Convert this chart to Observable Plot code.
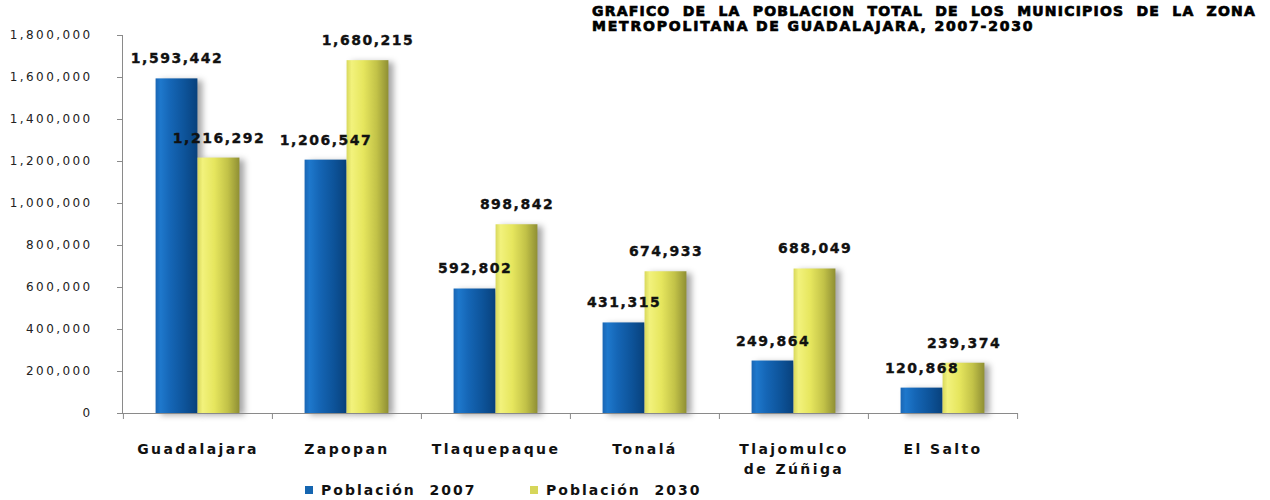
<!DOCTYPE html>
<html><head><meta charset="utf-8">
<script src="https://cdn.jsdelivr.net/npm/d3@7"></script>
<script src="https://cdn.jsdelivr.net/npm/@observablehq/plot@0.6"></script>
<style>
body{margin:0;background:#fff;width:1270px;height:500px;position:relative;overflow:hidden;}
#title{position:absolute;left:592px;top:4px;width:664px;font-family:"DejaVu Sans",sans-serif;font-weight:bold;font-size:14px;line-height:15px;color:#000;letter-spacing:1.8px;-webkit-text-stroke:0.7px #000;}
#title .l1{text-align:justify;text-align-last:justify;letter-spacing:1.2px;}
#chart{position:absolute;left:0;top:0;}
#legend{position:absolute;left:0;top:480px;width:1270px;height:20px;font-family:"DejaVu Sans",sans-serif;font-weight:bold;font-size:14px;color:#111;letter-spacing:2px;}
#legend .item{position:absolute;top:0;line-height:20px;white-space:pre;}
#legend .sw{display:inline-block;width:8px;height:8px;margin-right:8px;vertical-align:1px;}
.bars{filter:drop-shadow(5px 2px 3px rgba(0,0,0,0.35));}
.vlab{letter-spacing:1.5px;stroke:#111;stroke-width:0.35px;}
</style>
</head><body>
<div id="title"><div class="l1">GRAFICO DE LA POBLACION TOTAL DE LOS MUNICIPIOS DE LA ZONA</div><div>METROPOLITANA DE GUADALAJARA, 2007-2030</div></div>
<div id="chart"></div>
<div id="legend"></div>
<script>
const categories = ["Guadalajara", "Zapopan", "Tlaquepaque", "Tonalá", "Tlajomulco\nde Zúñiga", "El Salto"];
const pop2007 = [1593442, 1206547, 592802, 431315, 249864, 120868];
const pop2030 = [1216292, 1680215, 898842, 674933, 688049, 239374];
const seriesNames = ["Población  2007", "Población  2030"];
const yTicks = [0, 200000, 400000, 600000, 800000, 1000000, 1200000, 1400000, 1600000, 1800000];

const W = 1270, H = 480, mL = 122, mR = 253, mT = 35, mB = 67;
const bw = (W - mL - mR) / categories.length;
const barW = 42;

const rows07 = categories.map((c, i) => ({cat: c, v: pop2007[i]}));
const rows30 = categories.map((c, i) => ({cat: c, v: pop2030[i]}));
const fmt = d3.format(",");

const svg = Plot.plot({
  width: W, height: H,
  marginLeft: mL, marginRight: mR, marginTop: mT, marginBottom: mB,
  x: {domain: categories, padding: 0},
  y: {domain: [0, 1800000]},
  marks: [
    Plot.barY(rows07, {x: "cat", y: "v", fill: "url(#gBlue)", insetLeft: bw/2 - barW, insetRight: bw/2, className: "bars"}),
    Plot.barY(rows30, {x: "cat", y: "v", fill: "url(#gYellow)", insetLeft: bw/2, insetRight: bw/2 - barW, className: "bars"}),
    Plot.frame({anchor: "left", stroke: "#8a8a8a"}),
    Plot.frame({anchor: "bottom", stroke: "#8a8a8a"}),
    Plot.ruleX(categories, {x: d => d, y1: 0, y2: 0, insetBottom: -6, dx: -bw/2, stroke: "#8a8a8a"}),
    Plot.ruleX([categories[categories.length - 1]], {x: d => d, y1: 0, y2: 0, insetBottom: -6, dx: bw/2, stroke: "#8a8a8a"}),
    Plot.axisY({ticks: yTicks, tickFormat: fmt, tickSize: 5, tickPadding: 25, stroke: "#8a8a8a", fontSize: 12, fontFamily: "DejaVu Sans", fill: "#222", label: null}),
    Plot.axisX({tickSize: 0, tickPadding: 27, fontSize: 14, fontWeight: "bold", fontFamily: "DejaVu Sans", fill: "#111", lineHeight: 1.4, label: null}),
    Plot.text(rows07, {x: "cat", y: "v", text: d => fmt(d.v), dx: -barW/2, dy: -20, fontSize: 14, fontWeight: "bold", fontFamily: "DejaVu Sans", fill: "#111", className: "vlab"}),
    Plot.text(rows30, {x: "cat", y: "v", text: d => fmt(d.v), dx: barW/2, dy: -20, fontSize: 14, fontWeight: "bold", fontFamily: "DejaVu Sans", fill: "#111", className: "vlab"})
  ]
});

const defs = d3.select(svg).insert("defs", ":first-child");
defs.html(`
<linearGradient id="gBlue" x1="0" y1="0" x2="1" y2="0">
  <stop offset="0" stop-color="#1a66b4"/>
  <stop offset="0.12" stop-color="#1e78cc"/>
  <stop offset="0.35" stop-color="#1566b6"/>
  <stop offset="0.7" stop-color="#0d5399"/>
  <stop offset="1" stop-color="#08417c"/>
</linearGradient>
<linearGradient id="gYellow" x1="0" y1="0" x2="1" y2="0">
  <stop offset="0" stop-color="#d8d85c"/>
  <stop offset="0.12" stop-color="#f2f27c"/>
  <stop offset="0.4" stop-color="#e6e65e"/>
  <stop offset="0.72" stop-color="#c2c248"/>
  <stop offset="1" stop-color="#8f8f34"/>
</linearGradient>`);

d3.select(svg).selectAll("g[aria-label='y-axis tick label'] text").style("letter-spacing", "2.4px");
d3.select(svg).selectAll("g[aria-label='x-axis tick label'] text").style("letter-spacing", "2.4px");

document.getElementById("chart").appendChild(svg);

const colors = ["#1565b0", "#d6d65a"];
const lefts = [305, 530];
const legend = document.getElementById("legend");
seriesNames.forEach((s, i) => {
  const it = document.createElement("div");
  it.className = "item";
  it.style.left = lefts[i] + "px";
  it.innerHTML = `<span class="sw" style="background:${colors[i]}"></span>${s}`;
  legend.appendChild(it);
});
</script>
</body></html>
